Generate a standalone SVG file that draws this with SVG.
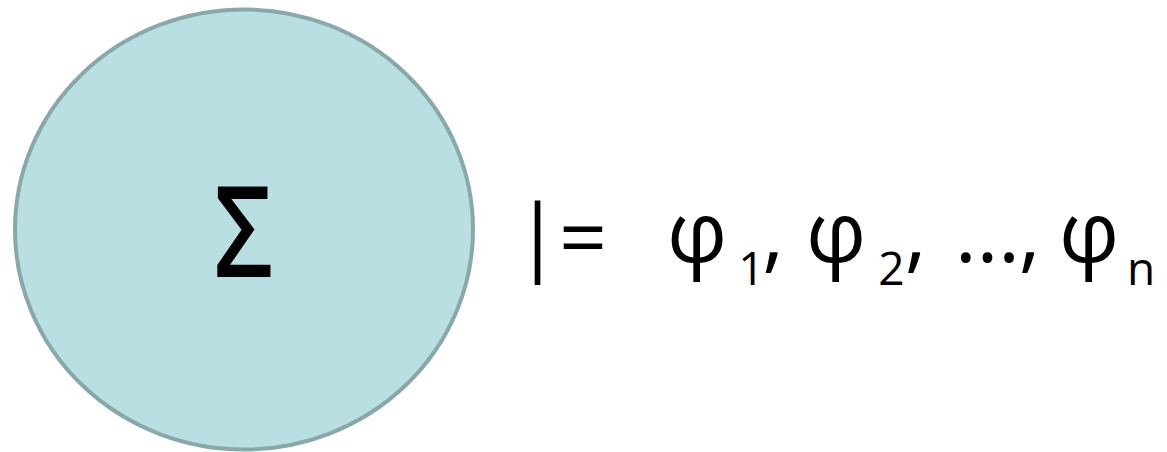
<svg xmlns="http://www.w3.org/2000/svg" width="1167" height="452" viewBox="0 0 1167 452">
<style>
.t{font-family:"Open Sans","Noto Sans","DejaVu Sans",sans-serif;fill:#000;text-anchor:middle}
.m{font-size:84px}
.sub{font-size:46px}
</style>
<rect width="1167" height="452" fill="#fff"/>
<g id="sigma-node">
<ellipse cx="244" cy="229.5" rx="229" ry="220" fill="#b9dfe2" stroke="#88a8aa" stroke-width="4"/>
<text class="t" transform="translate(243.5,277) scale(0.82,1)" font-size="126" font-weight="600">Σ</text>
</g>
<g id="formula">
<text class="t m" x="537.5" y="265">|</text>
<text class="t m" x="583" y="268">=</text>
<text class="t m" x="697" y="262">φ</text>
<text class="t sub" x="751.5" y="285">1</text>
<text class="t m" x="773" y="262">,</text>
<text class="t m" x="836" y="262">φ</text>
<text class="t sub" x="891.5" y="285">2</text>
<text class="t m" x="915.5" y="262">,</text>
<text class="t m" x="987.5" y="262">…</text>
<text class="t m" x="1029.5" y="262">,</text>
<text class="t m" x="1089" y="262">φ</text>
<text class="t sub" x="1141" y="285">n</text>
</g>
</svg>
